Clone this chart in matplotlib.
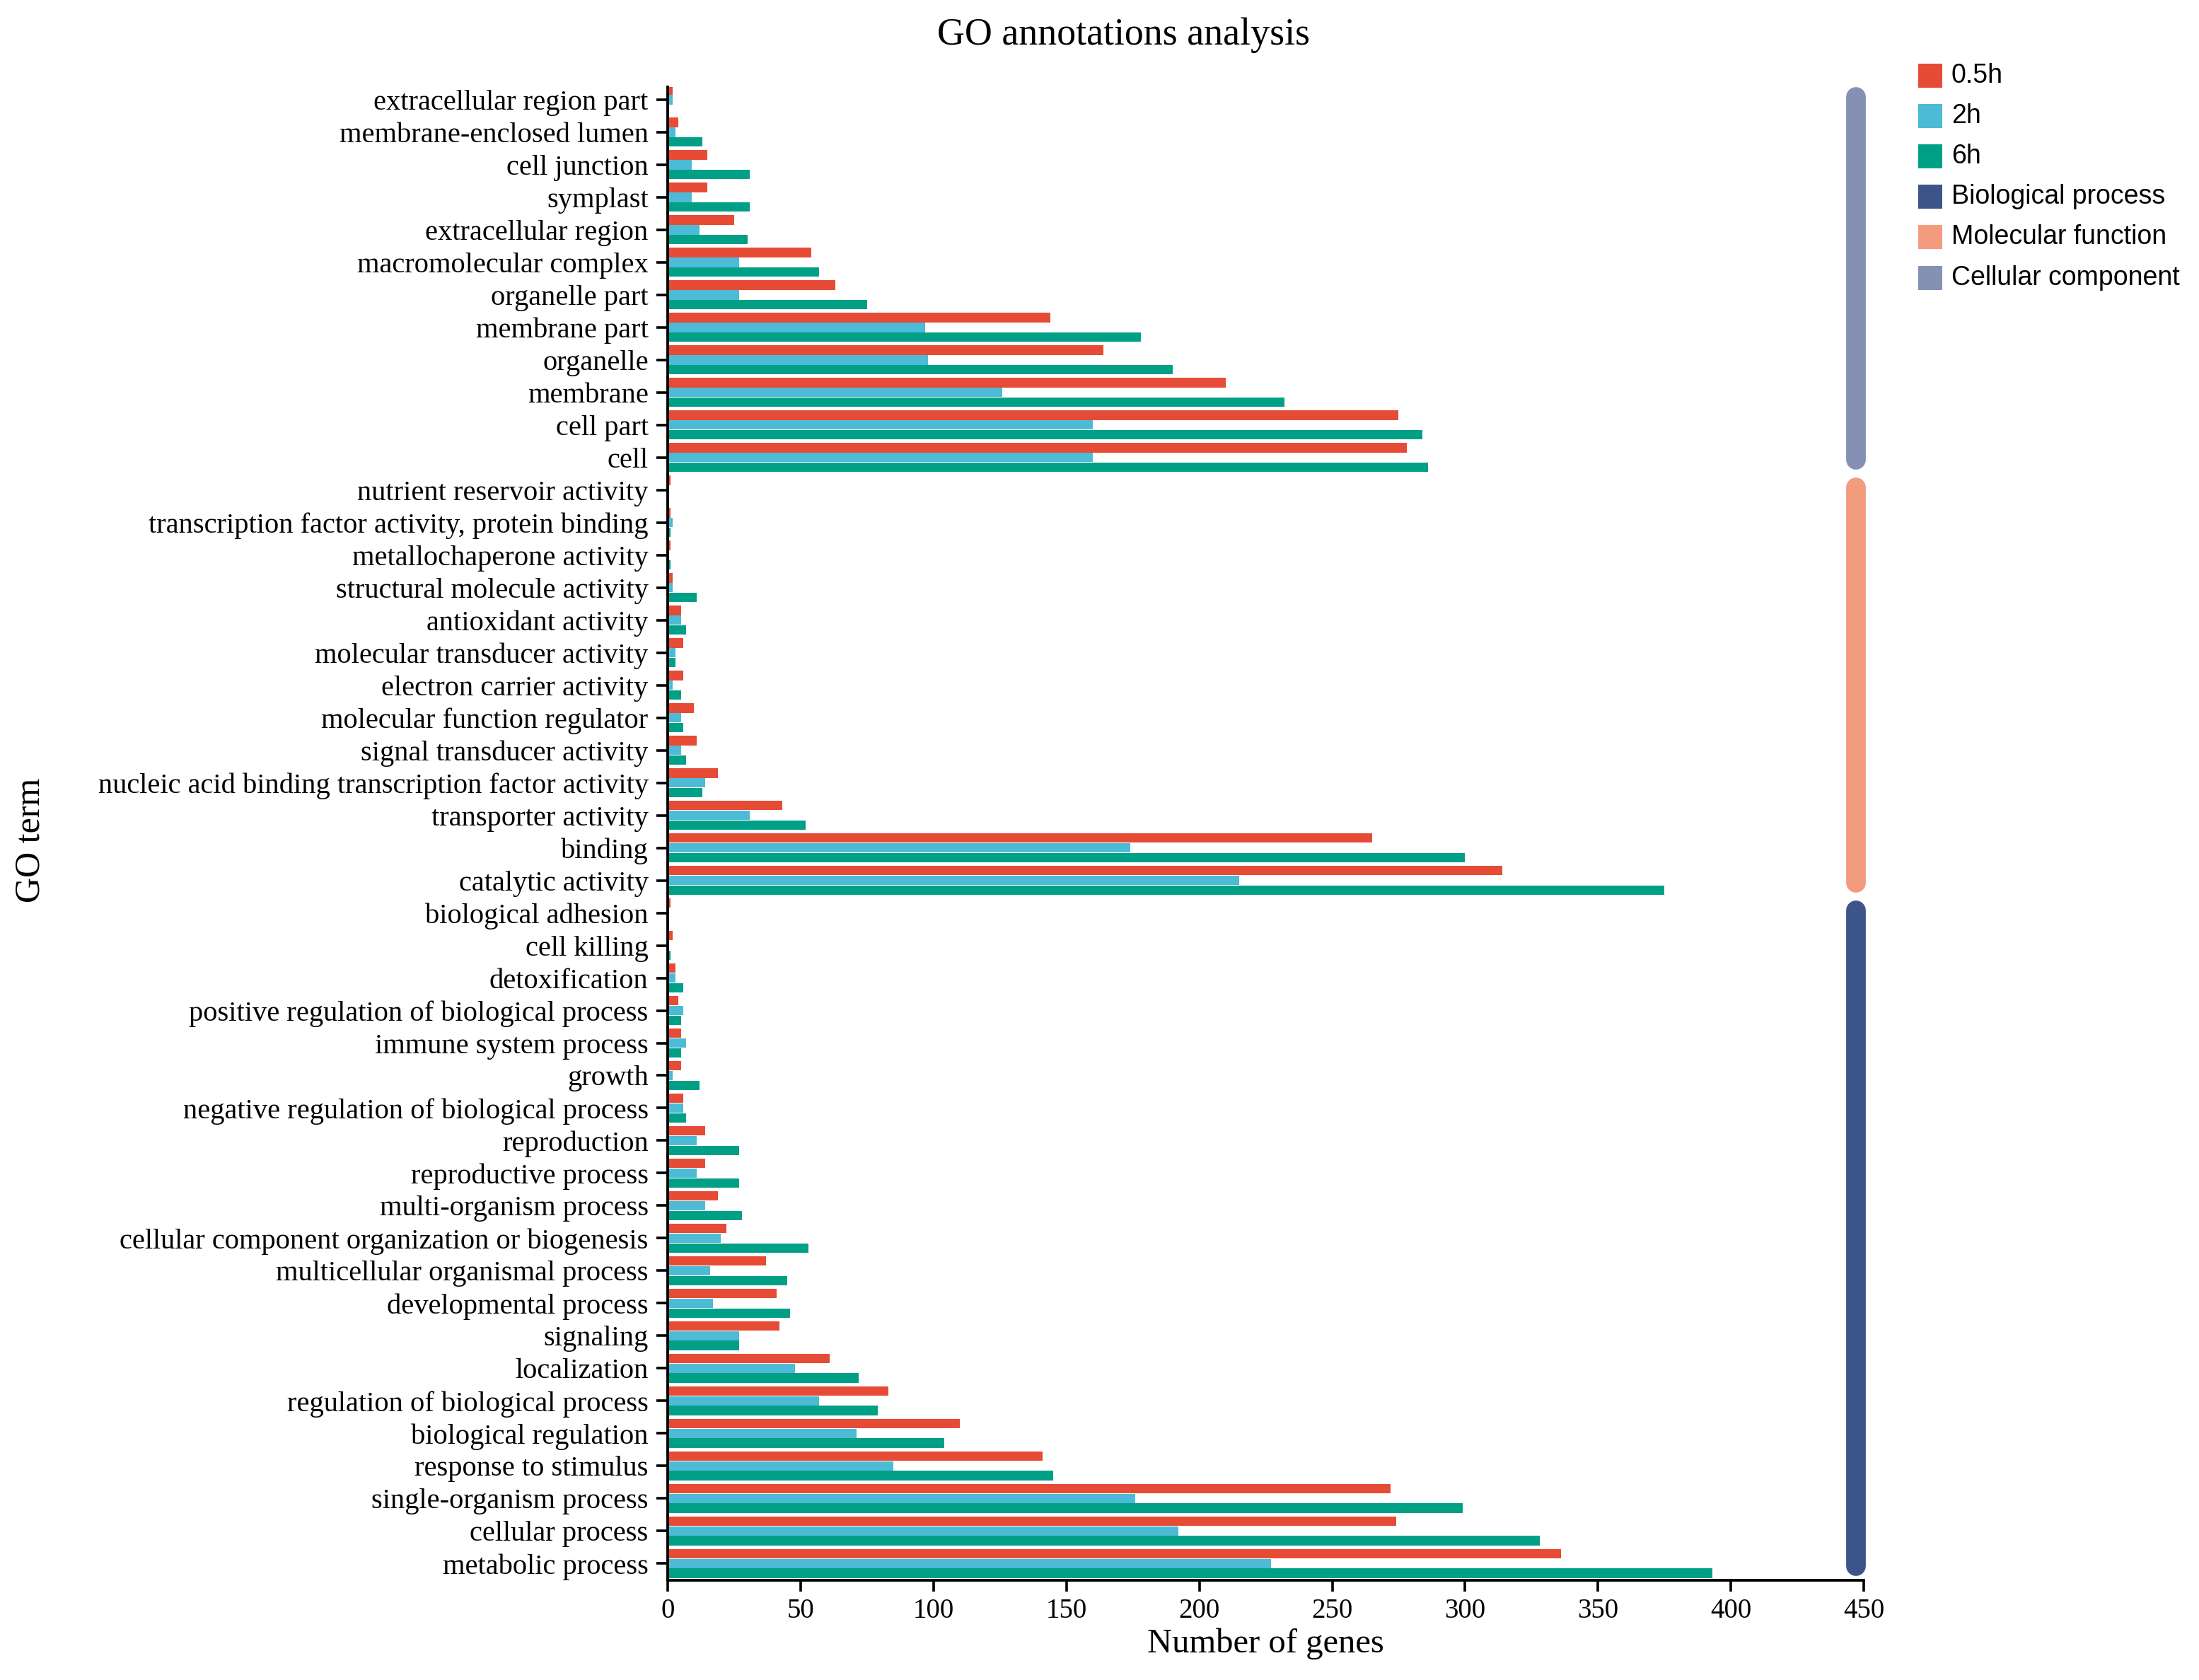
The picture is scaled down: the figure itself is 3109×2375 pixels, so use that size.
import matplotlib
matplotlib.use("Agg")
import matplotlib.pyplot as plt
from matplotlib.patches import Rectangle
import numpy as np

# ---------------- data (top-to-bottom order as in the chart) ----------------
cc_terms = ["extracellular region part", "membrane-enclosed lumen", "cell junction", "symplast",
            "extracellular region", "macromolecular complex", "organelle part", "membrane part",
            "organelle", "membrane", "cell part", "cell"]
cc_05h = [2, 4, 15, 15, 25, 54, 63, 144, 164, 210, 275, 278]
cc_2h = [2, 3, 9, 9, 12, 27, 27, 97, 98, 126, 160, 160]
cc_6h = [0, 13, 31, 31, 30, 57, 75, 178, 190, 232, 284, 286]

mf_terms = ["nutrient reservoir activity", "transcription factor activity, protein binding",
            "metallochaperone activity", "structural molecule activity", "antioxidant activity",
            "molecular transducer activity", "electron carrier activity", "molecular function regulator",
            "signal transducer activity", "nucleic acid binding transcription factor activity",
            "transporter activity", "binding", "catalytic activity"]
mf_05h = [1, 1, 1, 2, 5, 6, 6, 10, 11, 19, 43, 265, 314]
mf_2h = [0, 2, 0, 2, 5, 3, 2, 5, 5, 14, 31, 174, 215]
mf_6h = [0, 1, 1, 11, 7, 3, 5, 6, 7, 13, 52, 300, 375]

bp_terms = ["biological adhesion", "cell killing", "detoxification",
            "positive regulation of biological process", "immune system process", "growth",
            "negative regulation of biological process", "reproduction", "reproductive process",
            "multi-organism process", "cellular component organization or biogenesis",
            "multicellular organismal process", "developmental process", "signaling", "localization",
            "regulation of biological process", "biological regulation", "response to stimulus",
            "single-organism process", "cellular process", "metabolic process"]
bp_05h = [1, 2, 3, 4, 5, 5, 6, 14, 14, 19, 22, 37, 41, 42, 61, 83, 110, 141, 272, 274, 336]
bp_2h = [0, 0, 3, 6, 7, 2, 6, 11, 11, 14, 20, 16, 17, 27, 48, 57, 71, 85, 176, 192, 227]
bp_6h = [0, 1, 6, 5, 5, 12, 7, 27, 27, 28, 53, 45, 46, 27, 72, 79, 104, 145, 299, 328, 393]

series_names = ["0.5h", "2h", "6h"]
series_colors = ["#E64B35", "#4DBBD5", "#00A087"]
category_names = ["Biological process", "Molecular function", "Cellular component"]
category_colors = ["#3C5488", "#F39B7F", "#8491B4"]
x_ticks = [0, 50, 100, 150, 200, 250, 300, 350, 400, 450]

# ---------------- assemble ----------------
terms = cc_terms + mf_terms + bp_terms
v05 = cc_05h + mf_05h + bp_05h
v2 = cc_2h + mf_2h + bp_2h
v6 = cc_6h + mf_6h + bp_6h
n = len(terms)
ypos = np.arange(n)[::-1]  # top term has highest y

W, H, DPI = 3109, 2375, 200
fig = plt.figure(figsize=(W / DPI, H / DPI), dpi=DPI)
ax = fig.add_axes([0.3036, 0.0593, 0.5440, 0.8889])

serif = ["Liberation Serif", "DejaVu Serif"]
sans = ["Liberation Sans", "DejaVu Sans"]

off = 0.30
bh = 0.29
for vals, col, dy in zip([v05, v2, v6], series_colors, [off, 0.0, -off]):
    ax.barh(ypos + dy, vals, height=bh, color=col, edgecolor="none", zorder=2)

# category bars at right
groups = [(bp_terms, category_colors[0]), (mf_terms, category_colors[1]), (cc_terms, category_colors[2])]
for g_terms, col in groups:
    idx = [terms.index(t) for t in g_terms]
    ys = ypos[idx]
    ax.plot([447, 447], [ys.min() - 0.08, ys.max() + 0.08], color=col, lw=10,
            solid_capstyle="round", zorder=3, clip_on=False)

ax.set_xlim(0, 450)
ax.set_ylim(-0.52, n - 1 + 0.39)
ax.set_yticks(ypos)
ax.set_yticklabels(terms, fontfamily=serif, fontsize=14.6)
ax.set_xticks(x_ticks)
ax.set_xticklabels([str(t) for t in x_ticks], fontfamily=serif, fontsize=14)

for s in ["top", "right"]:
    ax.spines[s].set_visible(False)
for s in ["left", "bottom"]:
    ax.spines[s].set_linewidth(1.4)
    ax.spines[s].set_color("black")
ax.tick_params(axis="both", direction="out", length=5.8, width=1.3, color="black", pad=4)
ax.tick_params(axis="x", pad=3)

ax.set_xlabel("Number of genes", fontfamily=serif, fontsize=17.5, labelpad=2)
fig.text(0.014, 0.5, "GO term", rotation=90, ha="center", va="center",
         fontfamily=serif, fontsize=18)
fig.text(0.511, 0.979, "GO annotations analysis", ha="center", va="center",
         fontfamily=serif, fontsize=19.4)

# legend (manual)
leg_names = series_names + category_names
leg_colors = series_colors + category_colors
sq_w = 34 / W
sq_h = 34 / H
x0 = 0.8724
y_top = 1 - 54 / 1198
dy_leg = 28.8 / 1198
for i, (nm, col) in enumerate(zip(leg_names, leg_colors)):
    yc = y_top - i * dy_leg
    fig.patches.append(Rectangle((x0, yc - sq_h / 2), sq_w, sq_h, transform=fig.transFigure,
                                 facecolor=col, edgecolor="none"))
    fig.text(x0 + sq_w + 0.004, yc, nm, ha="left", va="center", fontfamily=sans, fontsize=13.5)

fig.savefig("out.png", dpi=DPI)
